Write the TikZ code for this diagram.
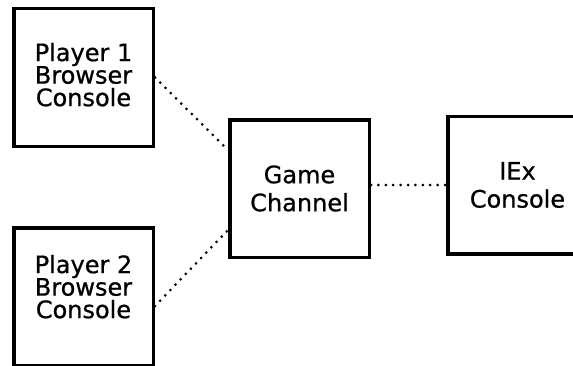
\documentclass[tikz,border=0pt]{standalone}
\usepackage{fontspec}
\setmainfont[FakeBold=0.8]{DejaVu Sans}
\usetikzlibrary{positioning}

\begin{document}
\begin{tikzpicture}[
  x=1pt, y=1pt,
  node distance=78pt,
  box/.style={
    rectangle, draw, line width=3.5pt,
    minimum width=139.5pt, minimum height=137.5pt,
    align=center, font=\fontsize{24}{28}\selectfont
  },
  player/.style={box, font=\fontsize{24}{22.5}\selectfont},
  link/.style={line width=3pt, line cap=round, dash pattern=on 0pt off 7.4pt}
]
\useasboundingbox (0,0) rectangle (573,365);

% Players
\node[player, text depth=6pt] (player1) at (83.5,287.5) {Player 1\\Browser\\Console};
\node[player, text depth=20pt, below=of player1] (player2) {Player 2\\Browser\\Console};

% Channel and console
\node[box] (game) at (299.5,176.5) {Game\\Channel};
\node[box, right=75pt of game, yshift=3.5pt] (iex) {IEx\\Console};

% Links
\draw[link] (player1.east) -- ([yshift=38.5pt]game.west);
\draw[link] ([yshift=-9.5pt]player2.east) -- ([yshift=-41.5pt]game.west);
\draw[link] (iex.west -| game.east) -- (iex.west);

\end{tikzpicture}
\end{document}
